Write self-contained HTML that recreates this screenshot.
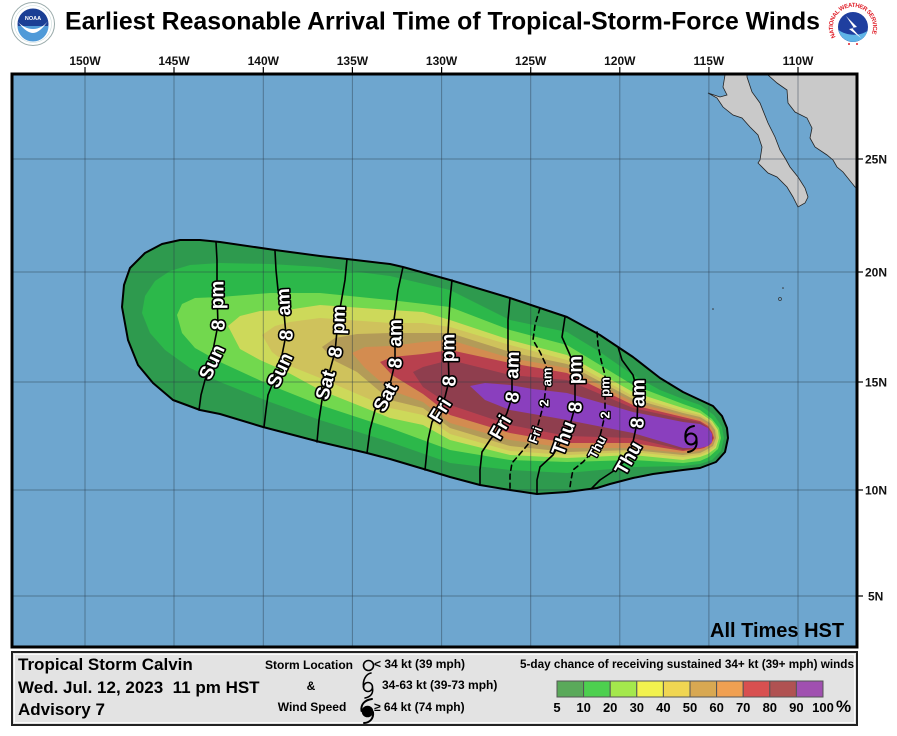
<!DOCTYPE html>
<html><head><meta charset="utf-8"><style>html,body{margin:0;padding:0;background:#fff}svg{display:block}</style></head>
<body>
<svg width="897" height="736" viewBox="0 0 897 736" xmlns="http://www.w3.org/2000/svg" font-family="'Liberation Sans', Arial, sans-serif">
<rect width="897" height="736" fill="#fff"/>

<!-- NOAA logo -->
<g>
<circle cx="33" cy="24" r="21.5" fill="#fff" stroke="#9aa" stroke-width="1"/>
<circle cx="33" cy="24" r="18.5" fill="none" stroke="#cdd" stroke-width="0.6"/>
<circle cx="33" cy="24" r="15.5" fill="#1b3f95"/>
<path d="M17.5,26 A15.5,15.5 0 0 0 48.5,26 Z" fill="#4f9ad8"/>
<path d="M18,22 C24,30 29,33 33,33 C38,33 43,28 48,21 C44,26 39,29 33,29 C27,29 22,26 18,22 Z" fill="#fff"/>
<text x="33" y="20" font-size="5.5" font-weight="bold" fill="#fff" text-anchor="middle">NOAA</text>
</g>

<!-- NWS logo -->
<g>
<circle cx="853" cy="27" r="25" fill="#fff"/>
<path id="nwsring" d="M835.7,37 A20,20 0 1 1 870.3,37" fill="none"/>
<text font-size="6" font-weight="bold" fill="#e0202a"><textPath href="#nwsring" textLength="80">NATIONAL WEATHER SERVICE</textPath></text>
<circle cx="853" cy="27" r="15" fill="#1f3f9f"/>
<path d="M838.5,30 C845,35 858,37 867.5,31 A15,15 0 0 1 839,32 Z" fill="#5fb4e6"/>
<path d="M846,16 L857,27 L852,28 L861,38 L849,29 L854,28 Z" fill="#fff"/>
<circle cx="849" cy="44" r="1" fill="#e0202a"/><circle cx="857" cy="44" r="1" fill="#e0202a"/>
</g>

<!-- Title -->
<text x="65" y="29.5" font-size="25" font-weight="bold" fill="#000" textLength="755" lengthAdjust="spacingAndGlyphs">Earliest Reasonable Arrival Time of Tropical-Storm-Force Winds</text>

<!-- Map -->
<defs><clipPath id="mapclip"><rect x="12" y="74" width="845" height="573"/></clipPath></defs>
<rect x="12" y="74" width="845" height="573" fill="#6ea6cf"/>
<g clip-path="url(#mapclip)">
  <!-- land -->
  <polygon points="725,70 725,75 723,87 727,95 720,97 708,93 717,98 723,107 733,115 742,118 750,127 758,135 762,147 760,160 758,163 768,173 777,177 787,187 793,197 798,207 805,203 808,197 805,188 798,177 790,167 785,158 780,150 775,137 768,123 760,103 752,92 747,77 747,70" fill="#c9c9c9" stroke="#222" stroke-width="0.8"/>
  <polygon points="766,70 768,75 777,83 787,90 788,103 795,112 807,118 812,128 810,138 815,147 827,155 833,160 837,167 843,172 855,187 860,190 860,70" fill="#c9c9c9" stroke="#222" stroke-width="0.8"/>
  <circle cx="780" cy="299" r="1.5" fill="none" stroke="#333" stroke-width="0.7"/>
  <circle cx="783" cy="288" r="0.8" fill="#333"/>
  <circle cx="713" cy="309" r="0.8" fill="#333"/>

  <!-- swath bands -->
  <polygon fill="#2e9a4e" points="122,307 124,285 130,268 145,253 162,244 180,240 200,240 220,242 275,250 320,256 347,259 390,264 403,267 450,280 510,298 567,317 600,335 633,357 660,378 683,392 700,400 713,406 722,416 727,428 728,438 725,452 716,462 700,468 683,470 653,474 633,478 610,484 597,488 567,492 537,494 510,490 480,485 450,477 427,470 390,459 367,453 320,442 263,427 220,414 200,410 173,400 153,383 138,365 128,340"/>
  <polygon fill="#2cb84a" points="142,313 145,296 155,281 170,271 190,265 220,263 270,264 320,267 390,276 450,290 510,320 567,332 600,352 633,375 660,390 683,399 700,405 714,415 722,427 724,438 721,451 712,460 700,464 683,466 633,467 567,473 510,470 450,463 390,442 320,420 270,402 220,382 190,368 165,350 150,333"/>
  <polygon fill="#72d84e" points="177,315 182,304 195,298 220,297 270,293 320,293 390,300 450,307 510,330 567,345 633,385 683,404 700,410 712,419 719,428 721,438 718,449 709,457 700,461 683,463 633,460 567,462 510,460 450,450 390,428 320,405 270,385 220,362 195,348 182,333"/>
  <polygon fill="#cdd95a" points="228,326 240,316 260,311 287,310 320,305 390,310 423,312 450,320 510,340 567,355 633,392 683,408 700,413 712,421 718,430 719,438 716,448 708,454 700,457 683,460 633,455 567,458 510,455 450,440 423,425 390,418 320,390 287,372 260,360 240,349"/>
  <polygon fill="#cfc25c" points="262,335 275,326 290,322 320,318 390,323 423,323 450,327 510,345 567,360 633,396 683,411 700,415 711,422 716,430 718,438 715,447 707,452 700,455 683,457 633,452 567,455 510,451 450,434 423,415 390,408 320,378 290,366 272,352"/>
  <polygon fill="#b39b58" points="322,347 335,338 357,334 390,333 423,333 450,333 510,352 567,364 633,399 683,413 700,417 710,423 715,430 716,438 713,446 706,450 700,453 683,455 633,450 567,452 510,446 450,428 423,408 390,400 357,372 335,361"/>
  <polygon fill="#d38c50" points="352,353 365,347 390,346 423,342 450,340 510,358 567,368 633,402 683,415 700,419 709,424 713,431 715,438 712,445 705,449 700,451 683,453 633,448 567,448 510,440 450,423 423,402 390,390 365,368"/>
  <polygon fill="#b8404e" points="380,362 392,357 423,354 450,350 510,363 567,373 633,405 683,417 700,421 708,426 712,432 714,438 711,444 704,448 700,449 683,451 633,443 567,443 510,433 450,415 423,394 392,375"/>
  <polygon fill="#8f3e4e" points="413,372 423,367 450,360 510,375 567,380 633,408 683,419 700,422 707,427 711,433 713,438 710,443 703,447 683,450 633,438 567,436 510,425 450,405 423,387"/>
  <polygon fill="#8a3fbe" points="470,386 485,383 510,385 533,389 567,393 633,412 683,422 700,424 708,428 712,434 712,442 708,446 700,448 683,448 633,433 567,420 533,414 510,410 485,400"/>

  <!-- grid -->
  <g stroke="#2a3a48" stroke-opacity="0.45" stroke-width="1">
    <line x1="85" y1="74" x2="85" y2="647"/>
    <line x1="174" y1="74" x2="174" y2="647"/>
    <line x1="263.3" y1="74" x2="263.3" y2="647"/>
    <line x1="352.4" y1="74" x2="352.4" y2="647"/>
    <line x1="441.6" y1="74" x2="441.6" y2="647"/>
    <line x1="530.7" y1="74" x2="530.7" y2="647"/>
    <line x1="619.8" y1="74" x2="619.8" y2="647"/>
    <line x1="708.9" y1="74" x2="708.9" y2="647"/>
    <line x1="798" y1="74" x2="798" y2="647"/>
    <line x1="12" y1="159" x2="857" y2="159"/>
    <line x1="12" y1="272" x2="857" y2="272"/>
    <line x1="12" y1="382" x2="857" y2="382"/>
    <line x1="12" y1="490" x2="857" y2="490"/>
    <line x1="12" y1="596" x2="857" y2="596"/>
  </g>

  <!-- outer outline -->
  <polygon fill="none" stroke="#000" stroke-width="2" stroke-linejoin="round" points="122,307 124,285 130,268 145,253 162,244 180,240 200,240 220,242 275,250 320,256 347,259 390,264 403,267 450,280 510,298 567,317 600,335 633,357 660,378 683,392 700,400 713,406 722,416 727,428 728,438 725,452 716,462 700,468 683,470 653,474 633,478 610,484 597,488 567,492 537,494 510,490 480,485 450,477 427,470 390,459 367,453 320,442 263,427 220,414 200,410 173,400 153,383 138,365 128,340"/>

  <!-- isochrones -->
  <g fill="none" stroke="#000" stroke-width="1.6" stroke-linejoin="round" stroke-linecap="round">
    <polyline points="216,242 217,260 217,280 217,295 218,325 214,345 211,362 205,380 201,395 199,410"/>
    <polyline points="275,251 276,270 278,290 283,302 286,335 282,355 279,370 272,385 268,395 266,410 264,427"/>
    <polyline points="347,259 345,280 341,303 338,320 335,352 330,370 325,385 322,400 319,420 317,442"/>
    <polyline points="403,267 398,290 394,320 395,333 395,363 391,380 385,397 375,410 370,430 367,453"/>
    <polyline points="452,280 450,300 448,333 448,348 449,381 445,397 440,410 432,422 428,440 425,470"/>
    <polyline points="510,298 508,320 508,350 512,365 512,397 507,413 500,427 490,440 482,452 480,470 480,485"/>
    <polyline points="565,317 562,337 570,355 575,370 575,407 570,425 563,438 553,455 540,467 537,480 537,494"/>
    <polyline points="618,347 622,360 633,375 638,393 637,423 633,442 628,458 615,470 600,480 592,488"/>
    <polyline stroke-dasharray="5,4" points="540,308 535,325 533,340 540,352 546,365 547,377 544,403 538,425 533,438 525,448 512,463 510,475 510,490"/>
    <polyline stroke-dasharray="5,4" points="597,332 598,345 601,360 605,375 605,387 605,415 601,432 597,447 583,462 573,470 571,480 570,487"/>
  </g>

  <!-- labels (word by word, following the curves) -->
  <g fill="#fff" stroke="#000" stroke-width="3.2" paint-order="stroke" stroke-linejoin="round" font-weight="bold" text-anchor="middle" font-size="19">
    <text transform="translate(211.5,362) rotate(-65)" dy="0.35em">Sun</text>
    <text transform="translate(218,325) rotate(-85)" dy="0.35em">8</text>
    <text transform="translate(217,295) rotate(-90)" dy="0.35em">pm</text>

    <text transform="translate(279.5,370) rotate(-65)" dy="0.35em">Sun</text>
    <text transform="translate(286,335) rotate(-85)" dy="0.35em">8</text>
    <text transform="translate(283,302) rotate(-93)" dy="0.35em">am</text>

    <text transform="translate(325,385) rotate(-75)" dy="0.35em">Sat</text>
    <text transform="translate(335,352) rotate(-80)" dy="0.35em">8</text>
    <text transform="translate(338,320) rotate(-88)" dy="0.35em">pm</text>

    <text transform="translate(385,397) rotate(-62)" dy="0.35em">Sat</text>
    <text transform="translate(395,363) rotate(-85)" dy="0.35em">8</text>
    <text transform="translate(395,333) rotate(-90)" dy="0.35em">am</text>

    <text transform="translate(440,410) rotate(-58)" dy="0.35em">Fri</text>
    <text transform="translate(449,381) rotate(-85)" dy="0.35em">8</text>
    <text transform="translate(448,348) rotate(-90)" dy="0.35em">pm</text>

    <text transform="translate(500,427) rotate(-60)" dy="0.35em">Fri</text>
    <text transform="translate(512,397) rotate(-80)" dy="0.35em">8</text>
    <text transform="translate(512,365) rotate(-88)" dy="0.35em">am</text>

    <text transform="translate(563,438) rotate(-70)" dy="0.35em">Thu</text>
    <text transform="translate(575,407) rotate(-85)" dy="0.35em">8</text>
    <text transform="translate(575,370) rotate(-90)" dy="0.35em">pm</text>

    <text transform="translate(628,458) rotate(-60)" dy="0.35em">Thu</text>
    <text transform="translate(637,423) rotate(-85)" dy="0.35em">8</text>
    <text transform="translate(638,393) rotate(-90)" dy="0.35em">am</text>
  </g>
  <g fill="#fff" stroke="#000" stroke-width="2.6" paint-order="stroke" stroke-linejoin="round" font-weight="bold" text-anchor="middle" font-size="13">
    <text transform="translate(535,435) rotate(-70)" dy="0.35em">Fri</text>
    <text transform="translate(544,403) rotate(-90)" dy="0.35em">2</text>
    <text transform="translate(547,377) rotate(-90)" dy="0.35em">am</text>

    <text transform="translate(597,447) rotate(-62)" dy="0.35em">Thu</text>
    <text transform="translate(605,415) rotate(-90)" dy="0.35em">2</text>
    <text transform="translate(605,387) rotate(-90)" dy="0.35em">pm</text>
  </g>

  <!-- storm symbol -->
  <g fill="none" stroke="#000" stroke-width="2" stroke-linecap="round">
    <circle cx="691" cy="439" r="5.5"/>
    <path d="M685.5,439 C684.5,431 688,427 694,426"/>
    <path d="M696.5,440 C697.5,447 694,451 688,452"/>
  </g>

  <text x="710" y="637" font-size="20" font-weight="bold" fill="#000">All Times HST</text>
</g>
<rect x="12" y="74" width="845" height="573" fill="none" stroke="#000" stroke-width="3"/>

<!-- ticks -->
<g stroke="#000" stroke-width="1.2">
  <line x1="85" y1="67" x2="85" y2="74"/><line x1="174" y1="67" x2="174" y2="74"/><line x1="263.3" y1="67" x2="263.3" y2="74"/>
  <line x1="352.4" y1="67" x2="352.4" y2="74"/><line x1="441.6" y1="67" x2="441.6" y2="74"/><line x1="530.7" y1="67" x2="530.7" y2="74"/>
  <line x1="619.8" y1="67" x2="619.8" y2="74"/><line x1="708.9" y1="67" x2="708.9" y2="74"/><line x1="798" y1="67" x2="798" y2="74"/>
  <line x1="857" y1="159" x2="863" y2="159"/><line x1="857" y1="272" x2="863" y2="272"/><line x1="857" y1="382" x2="863" y2="382"/>
  <line x1="857" y1="490" x2="863" y2="490"/><line x1="857" y1="596" x2="863" y2="596"/>
</g>
<g font-size="12" font-weight="bold" fill="#111" text-anchor="middle">
  <text x="85" y="65">150W</text><text x="174" y="65">145W</text><text x="263.3" y="65">140W</text>
  <text x="352.4" y="65">135W</text><text x="441.6" y="65">130W</text><text x="530.7" y="65">125W</text>
  <text x="619.8" y="65">120W</text><text x="708.9" y="65">115W</text><text x="798" y="65">110W</text>
</g>
<g font-size="12" font-weight="bold" fill="#111">
  <text x="865" y="163.5">25N</text><text x="865" y="276.5">20N</text><text x="865" y="386.5">15N</text>
  <text x="865" y="494.5">10N</text><text x="868" y="600.5">5N</text>
</g>

<!-- Legend -->
<rect x="12" y="652" width="845" height="73" fill="#e3e3e3" stroke="#222" stroke-width="2"/>
<rect x="14.5" y="654.5" width="840" height="68" fill="none" stroke="#fafafa" stroke-width="1"/>
<g font-weight="bold" fill="#000" font-size="17">
  <text x="18" y="670">Tropical Storm Calvin</text>
  <text x="18" y="693" xml:space="preserve">Wed. Jul. 12, 2023  11 pm HST</text>
  <text x="18" y="715">Advisory 7</text>
</g>
<g font-weight="bold" fill="#000" font-size="12">
  <text x="309" y="669" text-anchor="middle">Storm Location</text>
  <text x="311" y="690" text-anchor="middle">&amp;</text>
  <text x="312" y="711" text-anchor="middle">Wind Speed</text>
  <text x="374" y="668">&lt; 34 kt (39 mph)</text>
  <text x="382" y="689">34-63 kt (39-73 mph)</text>
  <text x="374" y="711">≥ 64 kt (74 mph)</text>
  <text x="520" y="668" textLength="334" lengthAdjust="spacingAndGlyphs">5-day chance of receiving sustained 34+ kt (39+ mph) winds</text>
</g>
<g fill="none" stroke="#000" stroke-width="1.6" stroke-linecap="round">
  <circle cx="368.5" cy="665.5" r="5"/>
  <circle cx="368" cy="687" r="4.5"/>
  <path d="M363.5,687 C362.5,680 366,674 371,673"/>
  <path d="M372.5,688 C373.5,694 370,697 365,698"/>
  <path stroke-width="2" d="M361.5,711 C360.5,704 365,700 372,699"/>
  <path stroke-width="2" d="M373,712 C374,719 369,723 364,723"/>
</g>
<circle cx="367.5" cy="711.5" r="5.8" fill="#000"/>

<g stroke="#555" stroke-width="1">
  <rect x="557" y="681" width="26.6" height="16" fill="#5aa95a"/>
  <rect x="583.6" y="681" width="26.6" height="16" fill="#4dd04f"/>
  <rect x="610.2" y="681" width="26.6" height="16" fill="#a4e84c"/>
  <rect x="636.8" y="681" width="26.6" height="16" fill="#f2f24e"/>
  <rect x="663.4" y="681" width="26.6" height="16" fill="#f0d652"/>
  <rect x="690" y="681" width="26.6" height="16" fill="#d8a852"/>
  <rect x="716.6" y="681" width="26.6" height="16" fill="#f0a052"/>
  <rect x="743.2" y="681" width="26.6" height="16" fill="#d85050"/>
  <rect x="769.8" y="681" width="26.6" height="16" fill="#b05252"/>
  <rect x="796.4" y="681" width="26.6" height="16" fill="#a050b0"/>
</g>
<g font-weight="bold" fill="#000" font-size="13" text-anchor="middle">
  <text x="557" y="712">5</text><text x="583.6" y="712">10</text><text x="610.2" y="712">20</text>
  <text x="636.8" y="712">30</text><text x="663.4" y="712">40</text><text x="690" y="712">50</text>
  <text x="716.6" y="712">60</text><text x="743.2" y="712">70</text><text x="769.8" y="712">80</text>
  <text x="796.4" y="712">90</text><text x="823" y="712">100</text>
  <text x="843.5" y="712" font-size="17">%</text>
</g>
</svg>
</body></html>
